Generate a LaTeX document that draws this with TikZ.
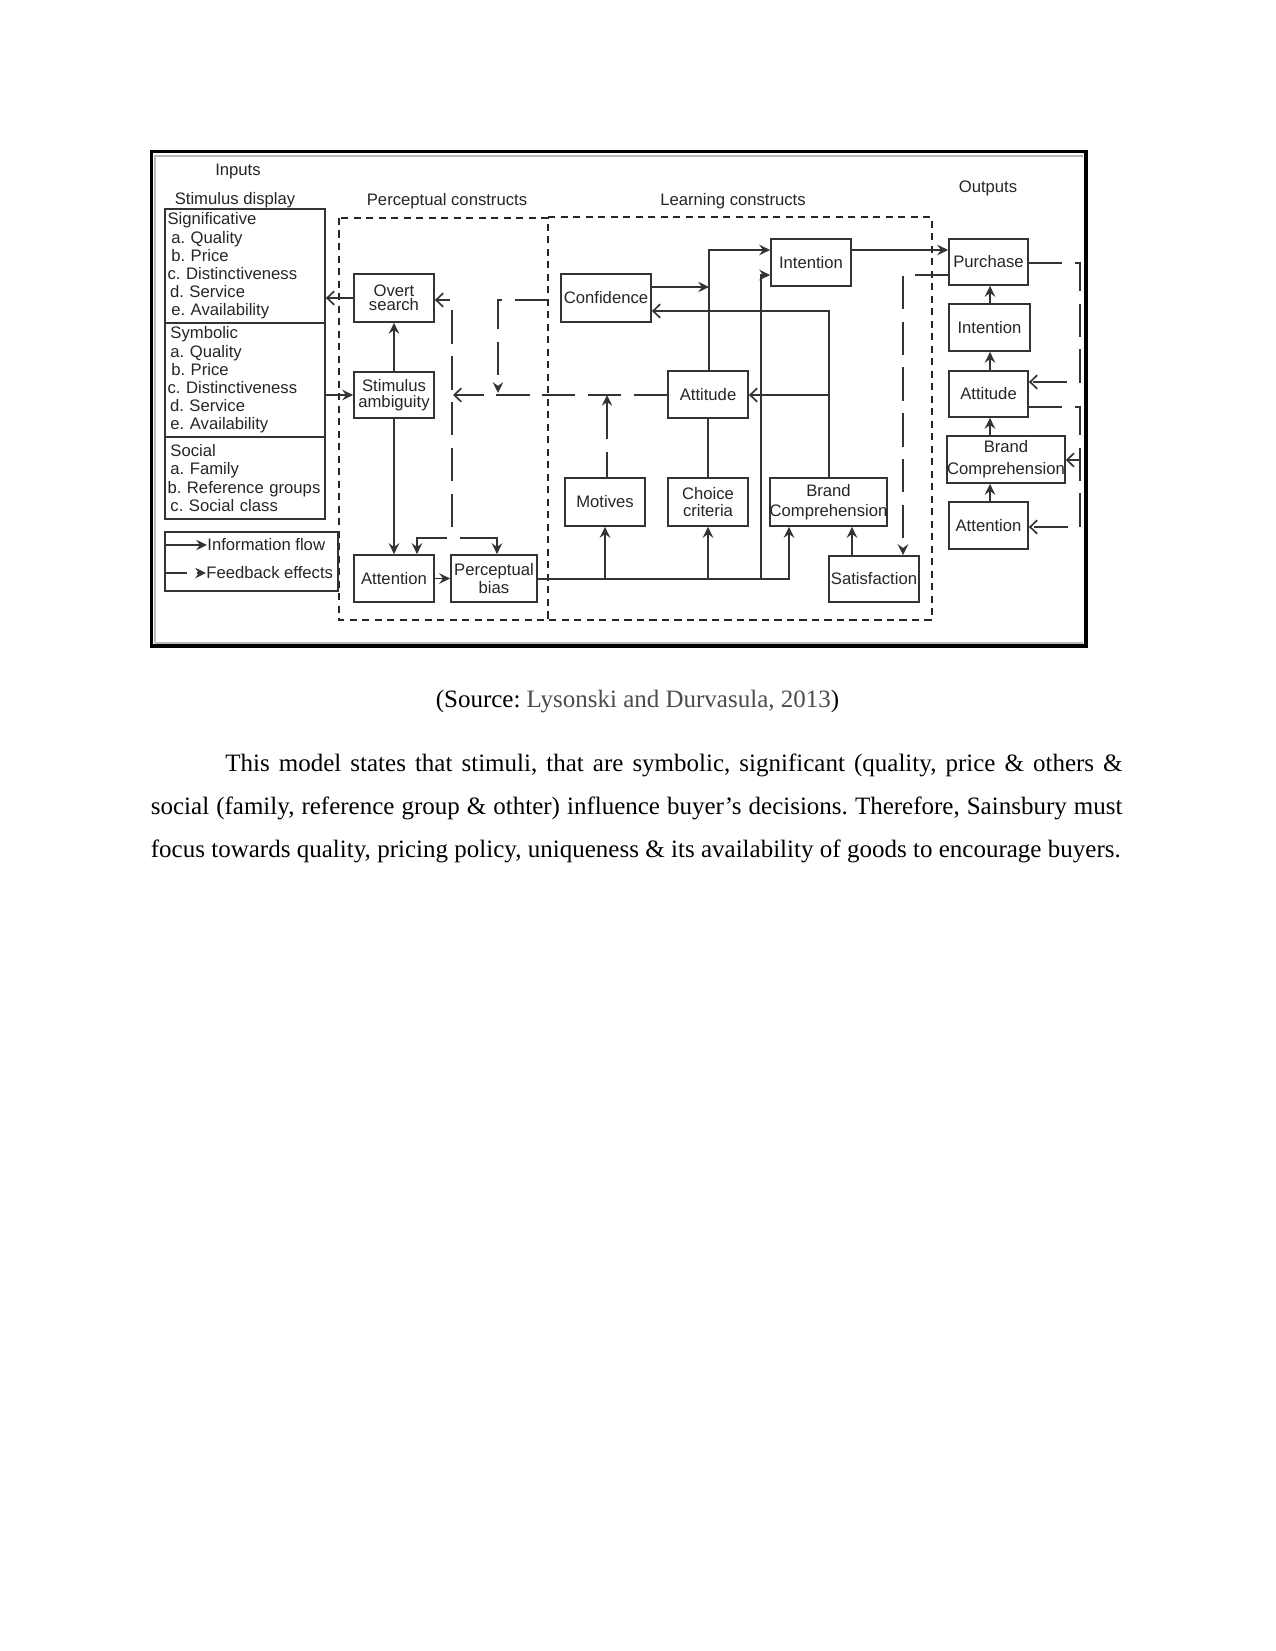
\documentclass[tikz,border=0pt]{standalone}
\usepackage{fontspec}
\setmainfont{Liberation Serif}
\setsansfont{Liberation Sans}
\usetikzlibrary{arrows.meta}
\AtBeginDocument{\frenchspacing}
\begin{document}
\begin{tikzpicture}[x=0.48pt,y=-0.48pt,
  lbl/.style={font=\sffamily\fontsize{8}{9}\selectfont, text=black!85, inner sep=0pt},
  bx/.style={draw=black!80, line width=0.85pt, inner sep=0pt, align=center, font=\sffamily\fontsize{8}{9}\selectfont, text=black!85},
  stim/.style={draw=black!80, line width=0.85pt, inner xsep=0.4pt, inner ysep=0pt, align=left, text width=76pt, font=\sffamily\fontsize{8}{8.7}\selectfont, text=black!85},
  wh/.style 2 args={minimum width=#1*0.48pt, minimum height=#2*0.48pt},
  tipS/.tip={Stealth[length=5.2pt,width=5pt,inset=1.8pt]},
  tipB/.tip={Straight Barb[length=3.4pt,width=6.5pt]},
  info/.style={draw=black!80, line width=0.8pt, -tipS},
  infoo/.style={draw=black!80, line width=0.8pt, -tipB},
  plain/.style={draw=black!80, line width=0.8pt},
  fb/.style={draw=black!80, line width=0.8pt, dash pattern=on 16pt off 6pt},
  fba/.style={fb, -tipB},
  fbs/.style={fb, -tipS},
  region/.style={draw=black!85, line width=0.7pt, dash pattern=on 3.5pt off 2.5pt},
  para/.style={font=\fontsize{12}{14}\selectfont, inner sep=0pt, anchor=base west},
]
\useasboundingbox (0,0) rectangle (1275,1651);
\fill[white] (0,0) rectangle (1275,1651);

% frame of the figure
\draw[line width=1.6pt] (151.5,151.5) rectangle (1086,646);
\draw[gray!55, line width=0.6pt] (155,643) -- (155,156) -- (1083,156);
\draw[gray!55, line width=0.6pt] (155,643) -- (1083,643);

% titles
\node[lbl] (tInputs) at (238,171) {Inputs};
\node[lbl] (tStim) at (235,200) {Stimulus display};
\node[lbl] (tPerc) at (447,201) {Perceptual constructs};
\node[lbl] (tLearn) at (733,201) {Learning constructs};
\node[lbl] (tOut) at (988,188) {Outputs};

% regions
\draw[region] (339,218) rectangle (548,620);
\draw[region] (548,217) -- (932,217) -- (932,620) -- (548,620);

% stimulus display
\node[stim, minimum height=114*0.48pt] (sig) at (245,266) {\hspace*{0.8pt}Significative\\\hspace*{2.6pt}a. Quality\\\hspace*{2.6pt}b. Price\\\hspace*{0.8pt}c. Distinctiveness\\\hspace*{2pt}d. Service\\\hspace*{2.6pt}e. Availability};
\node[stim, minimum height=114*0.48pt] (sym) at (245,380) {\hspace*{2.2pt}Symbolic\\\hspace*{2.2pt}a. Quality\\\hspace*{2.6pt}b. Price\\\hspace*{0.8pt}c. Distinctiveness\\\hspace*{2pt}d. Service\\\hspace*{2.2pt}e. Availability};
\node[stim, minimum height=82*0.48pt] (soc) at (245,478) {\hspace*{2.2pt}Social\\\hspace*{2.2pt}a. Family\\\hspace*{0.8pt}b. Reference groups\\\hspace*{2.2pt}c. Social class};

% legend
\node[draw=black!80, line width=0.85pt, wh={173}{59}] (legend) at (251.5,561.5) {};
\coordinate (li1) at (165,545);
\coordinate (li2) at (207,545);
\draw[info] (li1) -- (li2);
\node[lbl, anchor=west] (ltxt1) at (207,545) {Information flow};
\coordinate (lf1) at (165,573);
\coordinate (lf2) at (206,573);
\draw[draw=black!80, line width=0.8pt, dash pattern=on 10.5pt off 4.8pt, -tipS] (lf1) -- (lf2);
\node[lbl, anchor=west] (ltxt2) at (206,573) {Feedback effects};

% perceptual constructs
\node[bx, wh={80}{48}, font=\sffamily\fontsize{8}{5.8}\selectfont] (overt) at (394,298) {Overt\\search};
\node[bx, wh={80}{46}, font=\sffamily\fontsize{8}{7.7}\selectfont] (stamb) at (394,395) {Stimulus\\ambiguity};
\node[bx, wh={80}{47}] (attnP) at (394,578.5) {Attention};
\node[bx, wh={86}{47}, font=\sffamily\fontsize{8}{6.7}\selectfont] (pbias) at (494,578.5) {Perceptual\\bias};

% learning constructs
\node[bx, wh={90}{48}] (conf) at (606,298) {Confidence};
\node[bx, wh={80}{47}] (intL) at (811,262.5) {Intention};
\node[bx, wh={80}{47}] (attL) at (708,394.5) {Attitude};
\node[bx, wh={80}{48}] (motives) at (605,502) {Motives};
\node[bx, wh={80}{48}, font=\sffamily\fontsize{8}{8.2}\selectfont] (choice) at (708,502) {Choice\\criteria};
\node[bx, wh={115}{48}, font=\sffamily\fontsize{8}{9.6}\selectfont] (brandL) at (828.5,502) {Brand\\Comprehension};
\node[bx, wh={90}{46}] (satis) at (874,579) {Satisfaction};

% outputs
\node[bx, wh={79}{46}] (purch) at (988.5,262) {Purchase};
\node[bx, wh={81}{47}] (intO) at (989.5,327.5) {Intention};
\node[bx, wh={79}{46}] (attO) at (988.5,394) {Attitude};
\node[bx, wh={114}{47}, font=\sffamily\fontsize{8}{10.6}\selectfont] (brandO) at (1006,459.5) {Brand\\Comprehension};
\node[bx, wh={79}{47}] (attnO) at (988.5,525.5) {Attention};

% information flow
\draw[infoo] (overt.west) -- (overt.west -| sig.east);
\draw[info] (stamb.west -| sym.east) -- (stamb.west);
\draw[info] (stamb.north) -- (overt.south);
\draw[info] (stamb.south) -- (attnP.north);
\draw[info] (attnP.east) -- (pbias.west);
\coordinate (bend) at (789,579);
\draw[info] (pbias.east |- bend) -- (bend) -- (bend |- brandL.south);
\draw[info] (motives.south |- bend) -- (motives.south);
\draw[info] (choice.south |- bend) -- (choice.south);
\coordinate (v761) at (761,579);
\coordinate (i275) at (761,275);
\draw[info] (v761) -- (i275) -- (i275 -| intL.west);
\coordinate (a250) at (709,250);
\draw[info] (attL.north -| a250) -- (a250) -- (a250 -| intL.west);
\coordinate (c287) at (709,287);
\draw[info] (c287 -| conf.east) -- (c287);
\coordinate (bc311) at (829,311);
\draw[infoo] (brandL.north -| bc311) -- (bc311) -- (bc311 -| conf.east);
\coordinate (bc395) at (829,395);
\draw[infoo] (bc395) -- (bc395 -| attL.east);
\draw[plain] (attL.south) -- (choice.north);
\coordinate (i250) at (851,250);
\draw[info] (i250 -| intL.east) -- (i250 -| purch.west);
\coordinate (s852) at (852,556);
\draw[info] (s852 |- satis.north) -- (s852 |- brandL.south);
\coordinate (m607) at (607,395);
\draw[draw=black!80, line width=0.8pt, dash pattern=on 12pt off 6.2pt on 30pt off 1pt, -tipS] (m607 |- motives.north) -- (m607);
\coordinate (ox) at (990,400);
\draw[info] (ox |- attnO.north) -- (ox |- brandO.south);
\draw[info] (ox |- brandO.north) -- (ox |- attO.south);
\draw[info] (ox |- attO.north) -- (ox |- intO.south);
\draw[info] (ox |- intO.north) -- (ox |- purch.south);

% feedback effects
\coordinate (p275) at (903,275);
\draw[fbs] (p275 -| purch.west) -- (p275) -- (p275 |- satis.north);
\coordinate (r1) at (1080,263);
\coordinate (r2) at (1080,382);
\draw[fba] (r1 -| purch.east) -- (r1) -- (r2) -- (r2 -| attO.east);
\coordinate (r3) at (1080,407);
\coordinate (r4) at (1080,527);
\coordinate (r5) at (1080,460);
\draw[fba] (r3 -| attO.east) -- (r3) -- (r4) -- (r4 -| attnO.east);
\draw[fba] (r5) -- (r5 -| brandO.east);
\coordinate (h453) at (453,395);
\draw[fba] (h453 -| attL.west) -- (h453);
\coordinate (k2) at (548,300);
\coordinate (k3) at (498,300);
\coordinate (k4) at (498,393);
\draw[fbs] (k2) -- (k3) -- (k4);
\coordinate (j0) at (452,527);
\coordinate (j1) at (452,300);
\draw[fba] (j0) -- (j1) -- (j1 -| overt.east);
\coordinate (j2) at (417,538);
\coordinate (j3) at (497,538);
\draw[draw=black!80, line width=0.8pt, dash pattern=on 19.2pt off 6.2pt on 40pt off 1pt, tipS-tipS] (j2 |- attnP.north) -- (j2) -- (j3) -- (j3 |- pbias.north);

% caption and text
\node[font=\fontsize{12}{14}\selectfont, inner sep=0pt, anchor=base] (cap) at (637.5,707) {(Source: \textcolor{black!70}{Lysonski and Durvasula, 2013})};
\node[para] (p1) at (225,771) {\makebox[430.6pt][s]{This model states that stimuli, that are symbolic, significant (quality, price \& others \&}};
\node[para] (p2) at (150.5,814) {\makebox[466.3pt][s]{social (family, reference group \& othter) influence buyer’s decisions. Therefore, Sainsbury must}};
\node[para] (p3) at (150.5,857) {\makebox[465.5pt][s]{focus towards quality, pricing policy, uniqueness \& its availability of goods to encourage buyers.}};
\end{tikzpicture}
\end{document}
